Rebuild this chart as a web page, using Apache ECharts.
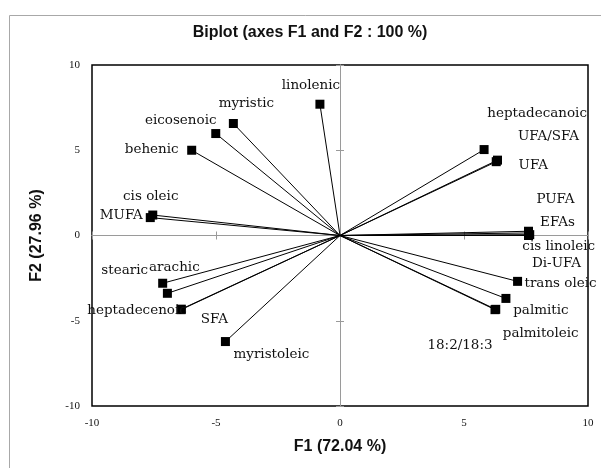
<!DOCTYPE html>
<html><head><meta charset="utf-8">
<script src="https://cdn.jsdelivr.net/npm/echarts@6/dist/echarts.min.js"></script>
<style>html,body{margin:0;padding:0;background:#fff}#c{width:601px;height:468px}</style>
</head><body><div id="c"></div>
<script>
// ---- data ----
const variables = ['linolenic','myristic','eicosenoic','behenic','cis oleic','MUFA',
  'heptadecanoic','UFA/SFA','UFA','PUFA','EFAs','cis linoleic','Di-UFA',
  'trans oleic','palmitic','palmitoleic','18:2/18:3',
  'stearic','arachic','heptadecenoic','SFA','myristoleic'];
const f1Scores = [-0.81,-4.30,-5.01,-5.98,-7.55,-7.65,
  5.81,6.35,6.30,7.60,7.60,7.65,7.60,
  7.16,6.69,6.28,6.25,
  -7.15,-6.96,-6.41,-6.40,-4.62];
const f2Scores = [7.70,6.57,5.98,5.00,1.20,1.05,
  5.04,4.42,4.33,0.25,0.15,0.05,0.00,
  -2.69,-3.69,-4.33,-4.35,
  -2.80,-3.39,-4.35,-4.32,-6.22];
const axisTicks = [-10,-5,0,5,10];
const titleText = 'Biplot (axes F1 and F2 : 100 %)';
const xTitle = 'F1 (72.04 %)';
const yTitle = 'F2 (27.96 %)';

// ---- label placement (pixel offsets from marker centre) ----
const labelOffsets = {
  'linolenic':[-9,-19],'myristic':[13,-20],'eicosenoic':[-35,-13],'behenic':[-40,-1],
  'cis oleic':[-2,-19],'MUFA':[-29,-2],'heptadecanoic':[53,-36],'UFA/SFA':[51,-24],
  'UFA':[37,4],'PUFA':[27,-32],'EFAs':[29,-10],'cis linoleic':[29,12],'Di-UFA':[28,28],
  'trans oleic':[43,2],'palmitic':[35,12],'palmitoleic':[45,24],'18:2/18:3':[-35,36],
  'stearic':[-38,-13],'arachic':[7,-26],'heptadecenoic':[-44,1],'SFA':[33,10],'myristoleic':[46,13]
};

const chart = echarts.init(document.getElementById('c'), null, {renderer:'canvas'});
const tMin = axisTicks[0], tMax = axisTicks[axisTicks.length-1], tStep = axisTicks[1]-axisTicks[0];
const points = variables.map((n,i)=>({name:n, value:[f1Scores[i], f2Scores[i]], label:{offset: labelOffsets[n]}}));
const vectors = variables.map((n,i)=>({name:n, coords:[[0,0],[f1Scores[i], f2Scores[i]]]}));
const base = {type:'value', min:tMin, max:tMax, interval:tStep, splitLine:{show:false}};
const tickFont = {fontFamily:'Liberation Serif', fontSize:11, color:'#111'};
const nameFont = {fontFamily:'Liberation Sans', fontWeight:'bold', fontSize:16, color:'#111'};
const zeroLine = {show:true, onZero:true, onZeroAxisIndex:0, lineStyle:{color:'#9a9a9a', width:1}};

const option = {
  animation:false,
  grid:{left:92, right:13, top:65, bottom:62, show:true, borderColor:'#000', borderWidth:1.5,
        backgroundColor:'transparent', outerBoundsMode:'none', containLabel:false},
  xAxis:[
    Object.assign({}, base, {position:'bottom', axisLine:{show:false, onZero:false}, axisTick:{show:false},
      axisLabel:Object.assign({margin:12}, tickFont),
      name:xTitle, nameLocation:'middle', nameGap:33, nameTextStyle:nameFont}),
    Object.assign({}, base, {position:'bottom', axisLine:zeroLine,
      axisTick:{show:true, inside:true, length:4, lineStyle:{color:'#9a9a9a'}}, axisLabel:{show:false}}),
    Object.assign({}, base, {position:'bottom', axisLine:zeroLine,
      axisTick:{show:true, inside:false, length:4, lineStyle:{color:'#9a9a9a'}}, axisLabel:{show:false}})
  ],
  yAxis:[
    Object.assign({}, base, {position:'left', axisLine:{show:false, onZero:false}, axisTick:{show:false},
      axisLabel:Object.assign({margin:12}, tickFont),
      name:yTitle, nameLocation:'middle', nameGap:47, nameRotate:90, nameTextStyle:nameFont}),
    Object.assign({}, base, {position:'left', axisLine:zeroLine,
      axisTick:{show:true, inside:true, length:4, lineStyle:{color:'#9a9a9a'}}, axisLabel:{show:false}}),
    Object.assign({}, base, {position:'left', axisLine:zeroLine,
      axisTick:{show:true, inside:false, length:4, lineStyle:{color:'#9a9a9a'}}, axisLabel:{show:false}})
  ],
  series:[
    {type:'lines', coordinateSystem:'cartesian2d', xAxisIndex:0, yAxisIndex:0, polyline:false,
     lineStyle:{color:'#000', width:1, opacity:1, curveness:0}, data:vectors, silent:true, z:2},
    {type:'scatter', xAxisIndex:0, yAxisIndex:0, symbol:'rect', symbolSize:9,
     itemStyle:{color:'#000', opacity:1}, data:points, silent:true, z:3,
     label:{show:true, position:'inside', formatter:'{b}', fontFamily:'DejaVu Serif', fontSize:13.5,
            color:'#111', align:'center', verticalAlign:'middle'}}
  ],
  graphic:[
    {type:'rect', shape:{x:9.5, y:15.5, width:700, height:600}, style:{fill:null, stroke:'#a8a8a8', lineWidth:1}, silent:true, z:-10},
    {type:'text', x:310, y:33, style:{text:titleText, align:'center', verticalAlign:'middle',
      font:'bold 16px "Liberation Sans"', fill:'#111'}, silent:true}
  ]
};
chart.setOption(option);
</script></body></html>
